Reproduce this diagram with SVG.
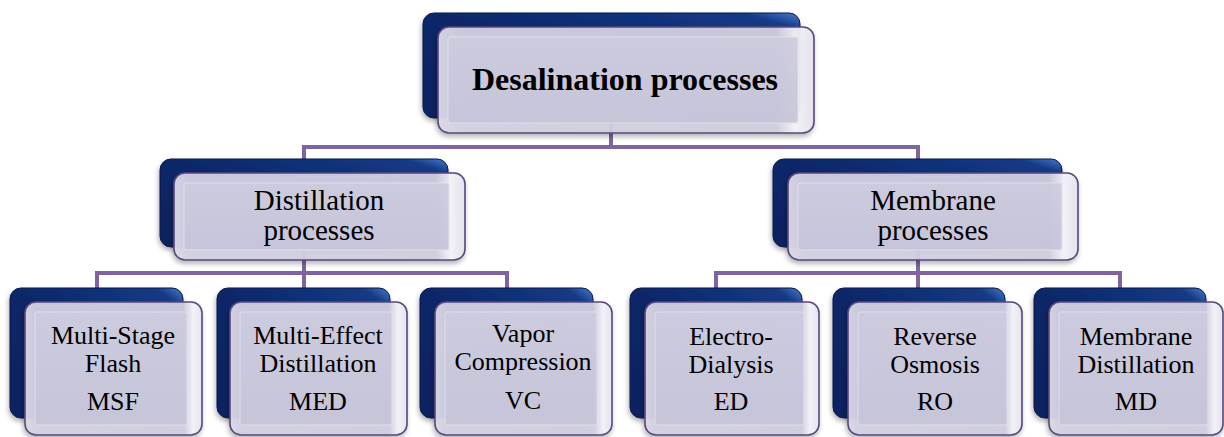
<svg xmlns="http://www.w3.org/2000/svg" width="1224" height="437" viewBox="0 0 1224 437">
<defs>
  <linearGradient id="backGrad" x1="1" y1="0" x2="0" y2="1">
    <stop offset="0" stop-color="#4A7CCB"/>
    <stop offset="0.08" stop-color="#143A86"/>
    <stop offset="0.5" stop-color="#0B2768"/>
    <stop offset="1" stop-color="#0A2260"/>
  </linearGradient>
  <linearGradient id="rimGrad" x1="0" y1="0" x2="1" y2="0">
    <stop offset="0" stop-color="#DCDAE8"/>
    <stop offset="0.06" stop-color="#D2D0E2"/>
    <stop offset="0.9" stop-color="#D0CEE0"/>
    <stop offset="0.95" stop-color="#F4F3F9"/>
    <stop offset="1" stop-color="#E4E2EE"/>
  </linearGradient>
  <linearGradient id="faceGrad" x1="0" y1="0" x2="0" y2="1">
    <stop offset="0" stop-color="#CDCBDE"/>
    <stop offset="1" stop-color="#C6C4D8"/>
  </linearGradient>
  <filter id="sh" x="-10%" y="-10%" width="120%" height="130%">
    <feDropShadow dx="-1" dy="3" stdDeviation="2.5" flood-color="#000" flood-opacity="0.3"/>
  </filter>
</defs>
<style>
  .back { fill: url(#backGrad); stroke: #08194A; stroke-width: 1; filter: url(#sh); }
  .front { fill: url(#rimGrad); fill-opacity: 0.95; stroke: #5A477E; stroke-width: 1.6; filter: url(#sh); }
  .face { fill: url(#faceGrad); fill-opacity: 0.9; stroke: #E6E4F0; stroke-width: 0.8; }
  .conn { fill: none; stroke: #7F64A0; stroke-width: 4; }
  .lbl { font-family: 'Liberation Serif', 'DejaVu Serif', 'Times New Roman', serif; fill: #000; text-anchor: middle; }
  .t1 { font-size: 32px; font-weight: bold; }
  .t2 { font-size: 29px; }
  .t3 { font-size: 26px; }
</style>

<g id="connectors">
  <path class="conn" d="M304 159 V147 H918 V159 M611 118 V147"/>
  <path class="conn" d="M97 288 V273 H507 V288 M304 247 V288"/>
  <path class="conn" d="M716 288 V273 H1120 V288 M918 247 V288"/>
</g>

<g id="n-desal">
  <rect class="back" x="423" y="13" width="377" height="105" rx="11"/>
  <rect class="front" x="438" y="27" width="376" height="106" rx="11"/>
  <rect class="face" x="448" y="37" width="350" height="86" rx="2"/>
  <text class="lbl t1" x="625" y="90" font-family="Liberation Serif, serif">Desalination processes</text>
</g>

<g id="n-distill">
  <rect class="back" x="160" y="159" width="288" height="88" rx="11"/>
  <rect class="front" x="174" y="173" width="291" height="87" rx="11"/>
  <rect class="face" x="184" y="183" width="265" height="67" rx="2"/>
  <text class="lbl t2" x="319" y="210">Distillation</text>
  <text class="lbl t2" x="319" y="240">processes</text>
</g>

<g id="n-membrane">
  <rect class="back" x="773" y="159" width="289" height="88" rx="11"/>
  <rect class="front" x="788" y="173" width="290" height="87" rx="11"/>
  <rect class="face" x="798" y="183" width="264" height="67" rx="2"/>
  <text class="lbl t2" x="933" y="210">Membrane</text>
  <text class="lbl t2" x="933" y="240">processes</text>
</g>

<g id="n-msf">
  <rect class="back" x="10" y="288" width="173" height="130" rx="11"/>
  <rect class="front" x="25" y="302" width="177" height="133" rx="11"/>
  <rect class="face" x="35" y="312" width="152" height="113" rx="2"/>
  <text class="lbl t3" x="113" y="344">Multi-Stage</text>
  <text class="lbl t3" x="113" y="372">Flash</text>
  <text class="lbl t3" x="113" y="410">MSF</text>
</g>

<g id="n-med">
  <rect class="back" x="217" y="288" width="173" height="130" rx="11"/>
  <rect class="front" x="230" y="302" width="177" height="133" rx="11"/>
  <rect class="face" x="240" y="312" width="152" height="113" rx="2"/>
  <text class="lbl t3" x="318" y="344">Multi-Effect</text>
  <text class="lbl t3" x="318" y="372">Distillation</text>
  <text class="lbl t3" x="318" y="410">MED</text>
</g>

<g id="n-vc">
  <rect class="back" x="420" y="288" width="173" height="130" rx="11"/>
  <rect class="front" x="435" y="302" width="177" height="133" rx="11"/>
  <rect class="face" x="445" y="312" width="152" height="113" rx="2"/>
  <text class="lbl t3" x="523" y="342">Vapor</text>
  <text class="lbl t3" x="523" y="370">Compression</text>
  <text class="lbl t3" x="523" y="409">VC</text>
</g>

<g id="n-ed">
  <rect class="back" x="630" y="288" width="172" height="130" rx="11"/>
  <rect class="front" x="645" y="302" width="174" height="133" rx="11"/>
  <rect class="face" x="655" y="312" width="149" height="113" rx="2"/>
  <text class="lbl t3" x="731" y="345">Electro-</text>
  <text class="lbl t3" x="731" y="373">Dialysis</text>
  <text class="lbl t3" x="731" y="410">ED</text>
</g>

<g id="n-ro">
  <rect class="back" x="833" y="288" width="172" height="130" rx="11"/>
  <rect class="front" x="848" y="302" width="174" height="133" rx="11"/>
  <rect class="face" x="858" y="312" width="149" height="113" rx="2"/>
  <text class="lbl t3" x="935" y="345">Reverse</text>
  <text class="lbl t3" x="935" y="373">Osmosis</text>
  <text class="lbl t3" x="935" y="410">RO</text>
</g>

<g id="n-md">
  <rect class="back" x="1034" y="288" width="172" height="130" rx="11"/>
  <rect class="front" x="1049" y="302" width="174" height="133" rx="11"/>
  <rect class="face" x="1059" y="312" width="149" height="113" rx="2"/>
  <text class="lbl t3" x="1136" y="345">Membrane</text>
  <text class="lbl t3" x="1136" y="373">Distillation</text>
  <text class="lbl t3" x="1136" y="410">MD</text>
</g>
</svg>
